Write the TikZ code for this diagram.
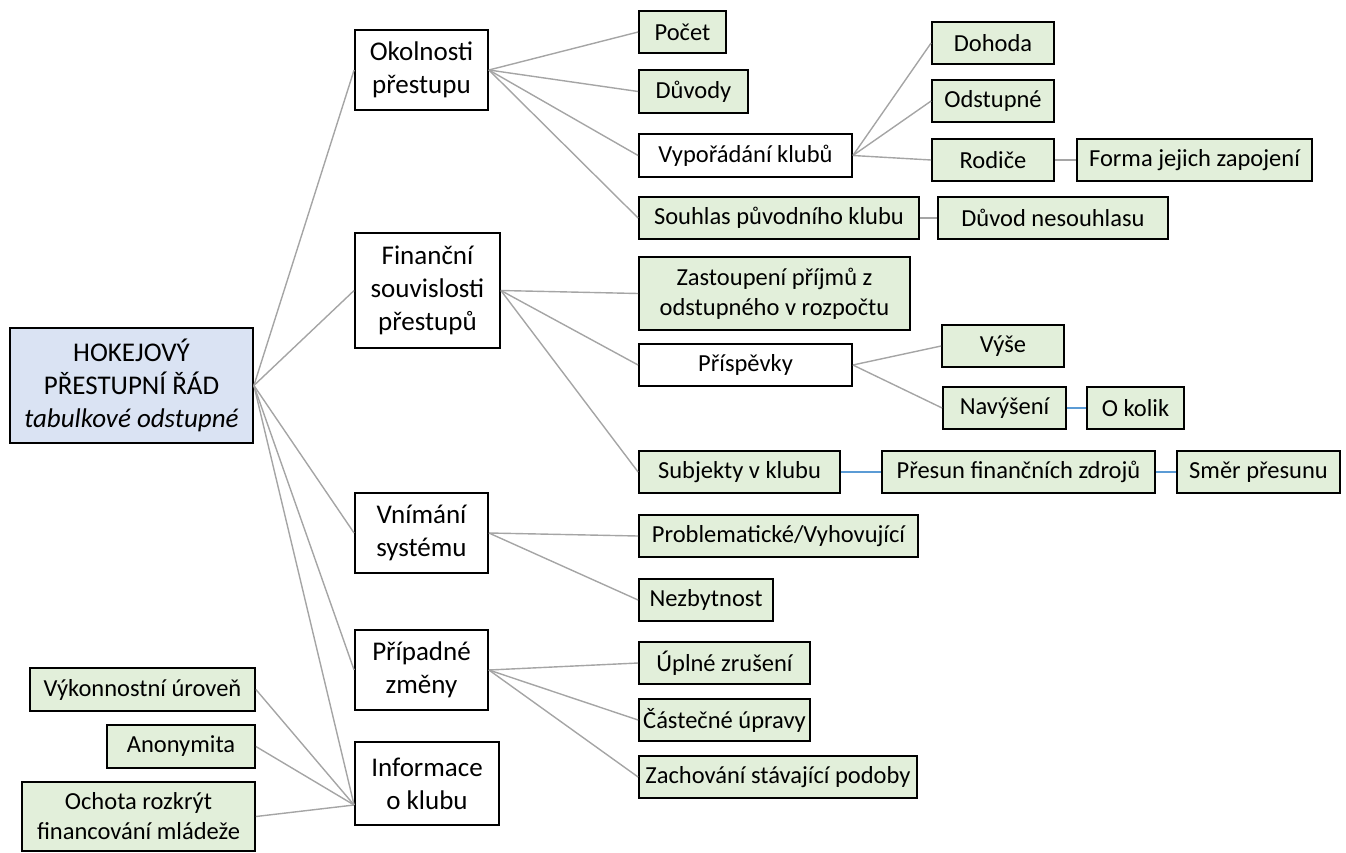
\documentclass[tikz,border=0pt]{standalone}
\usepackage{fontspec}
\setmainfont{Carlito}
\definecolor{rootfill}{HTML}{DAE3F3}
\definecolor{leaffill}{HTML}{E2EFDA}
\definecolor{greyline}{HTML}{A5A5A5}
\definecolor{blueline}{HTML}{5B9BD5}
\begin{document}
\begin{tikzpicture}[x=1pt,y=-1pt,
        box/.style={draw=black,line width=1.8pt,inner sep=0pt,align=center,font=\fontsize{24.5}{30}\selectfont},
        hlavni/.style={box,fill=rootfill,font=\fontsize{27}{33}\selectfont},
        kat/.style={box,fill=white,font=\fontsize{27}{33}\selectfont},
        list/.style={box,fill=leaffill,minimum height=42pt},
        listw/.style={box,fill=white,minimum height=42pt},
        spoj/.style={draw=greyline,line width=1.4pt},
        spojm/.style={draw=blueline,line width=1.4pt}]
    \useasboundingbox (0,0) rectangle (1346,852);
    % root and categories
    \node[hlavni,minimum width=243pt,minimum height=115pt] (root) at (131.5,385.5) {HOKEJOVÝ\\PŘESTUPNÍ ŘÁD\\\textit{tabulkové odstupné}};
    \node[kat,minimum width=133pt,minimum height=80pt] (okol) at (421.5,70) {Okolnosti\\přestupu};
    \node[kat,minimum width=145pt,minimum height=115pt] (fin) at (427.5,290.5) {Finanční\\souvislosti\\přestupů};
    \node[kat,minimum width=133pt,minimum height=80pt] (vnim) at (421.5,533) {Vnímání\\systému};
    \node[kat,minimum width=133pt,minimum height=80pt] (prip) at (421.5,670) {Případné\\změny};
    \node[kat,minimum width=144pt,minimum height=83pt] (info) at (427,783.5) {Informace\\o klubu};
    \coordinate (infoL) at ([yshift=-21.5pt]info.west);
    % okolnosti
    \node[list,minimum width=87pt] (pocet) at (682.5,32) {Počet};
    \node[list,minimum width=109pt,minimum height=43pt] (duvody) at (693.5,91.5) {Důvody};
    \node[listw,minimum width=213pt,minimum height=43pt] (vypo) at (745.5,155.5) {Vypořádání klubů};
    \node[list,minimum width=280pt] (souhlas) at (779,218) {Souhlas původního klubu};
    \node[list,minimum width=230pt] (nesouhlas) at (1053,218) {Důvod nesouhlasu};
    \node[list,minimum width=122pt] (dohoda) at (993,43) {Dohoda};
    \node[list,minimum width=122pt] (odst) at (993,101) {Odstupné};
    \node[list,minimum width=122pt] (rodice) at (993,160) {Rodiče};
    \node[list,minimum width=235pt] (forma) at (1194.5,160) {Forma jejich zapojení};
    % financni
    \node[list,minimum width=271pt,minimum height=73pt] (zast) at (774.5,293.5) {Zastoupení příjmů z\\odstupného v rozpočtu};
    \node[listw,minimum width=213pt] (prisp) at (745.5,365) {Příspěvky};
    \node[list,minimum width=122pt] (vyse) at (1003,346) {Výše};
    \node[list,minimum width=123pt] (navys) at (1004.5,408) {Navýšení};
    \node[list,minimum width=97pt] (okolik) at (1135.5,408) {O kolik};
    \node[list,minimum width=201pt] (subj) at (739.5,472) {Subjekty v klubu};
    \node[list,minimum width=273pt] (presun) at (1018.5,472) {Přesun finančních zdrojů};
    \node[list,minimum width=163pt] (smer) at (1258.5,472) {Směr přesunu};
    % vnimani, zmeny
    \node[list,minimum width=279pt] (probl) at (778.5,536) {Problematické/Vyhovující};
    \node[list,minimum width=134pt] (nezb) at (706,600) {Nezbytnost};
    \node[list,minimum width=171pt] (zrus) at (724.5,663) {Úplné zrušení};
    \node[list,minimum width=171pt] (upravy) at (724.5,720) {Částečné úpravy};
    \node[list,minimum width=278pt] (zach) at (778,777) {Zachování stávající podoby};
    % informace
    \node[list,minimum width=225pt,minimum height=43pt] (vykon) at (142.5,689.5) {Výkonnostní úroveň};
    \node[list,minimum width=148pt,minimum height=43pt] (anon) at (181,746.5) {Anonymita};
    \node[list,minimum width=233pt,minimum height=69pt] (ochota) at (138.5,816.5) {Ochota rozkrýt\\financování mládeže};
    % connectors
    \foreach \n in {okol,fin,vnim,prip} \draw[spoj] (root.east) -- (\n.west);
    \draw[spoj] (root.east) -- (infoL);
    \foreach \n in {pocet,duvody,vypo,souhlas} \draw[spoj] (okol.east) -- (\n.west);
    \foreach \n in {dohoda,odst,rodice} \draw[spoj] (vypo.east) -- (\n.west);
    \draw[spoj] (rodice) -- (forma);
    \draw[spoj] (souhlas) -- (nesouhlas);
    \foreach \n in {zast,prisp,subj} \draw[spoj] (fin.east) -- (\n.west);
    \foreach \n in {vyse,navys} \draw[spoj] (prisp.east) -- (\n.west);
    \draw[spojm] (navys) -- (okolik);
    \draw[spojm] (subj) -- (presun);
    \draw[spojm] (presun) -- (smer);
    \foreach \n in {probl,nezb} \draw[spoj] (vnim.east) -- (\n.west);
    \foreach \n in {zrus,upravy,zach} \draw[spoj] (prip.east) -- (\n.west);
    \foreach \n in {vykon,anon,ochota} \draw[spoj] (infoL) -- (\n.east);
\end{tikzpicture}
\end{document}
